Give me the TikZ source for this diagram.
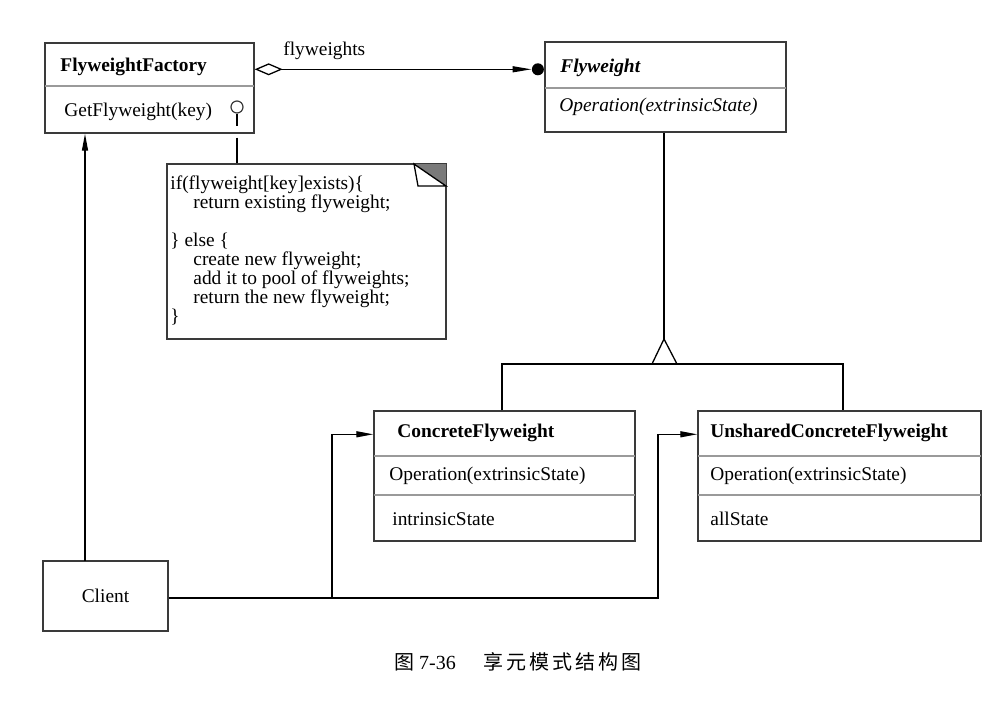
\documentclass[tikz,border=0pt]{standalone}
\usepackage{fontspec}
\setmainfont{Liberation Serif}
\newfontfamily\cjk[LetterSpace=15]{Noto Sans CJK SC}
\usepackage{tikz}
\usetikzlibrary{arrows.meta, positioning, calc, fit}
\definecolor{umlline}{HTML}{3a3a3a}
\definecolor{umlsep}{HTML}{9a9a9a}
\definecolor{umlfold}{HTML}{7a7a7a}

\begin{document}
\begin{tikzpicture}[
  x=0.5pt, y=-0.5pt,
  box/.style={rectangle, draw=umlline, line width=0.7pt, inner sep=0pt},
  txt/.style={inner sep=0pt, anchor=base west, font=\fontsize{9.7}{11}\selectfont},
  sep/.style={umlsep, line width=0.55pt},
  ln/.style={line width=0.65pt},
  ar/.style={-{Triangle[length=8.5pt,width=3pt]}, line width=0.65pt},
  agg/.style={{Diamond[open,length=14pt,width=6pt]}-{Triangle[length=9.5pt,width=3pt]}, line width=0.65pt},
  dotn/.style={circle, fill, inner sep=0pt, minimum size=6pt},
]
  \useasboundingbox (0,0) rectangle (991,707);

  % class boxes
  \node[box, fit={(45,43) (254,133)}] (fac) {};
  \node[box, fit={(545,42) (786,132)}] (fly) {};
  \node[box, fit={(374,411) (635,541)}] (cfw) {};
  \node[box, fit={(698,411) (981,541)}] (ufw) {};
  \node[box, minimum width=62.5pt, minimum height=35pt,
        font=\fontsize{9.7}{11}\selectfont] (cli) at (105.5,596) {Client};

  \draw[sep] (45,86) -- (254,86);
  \draw[sep] (545,88) -- (786,88);
  \draw[sep] (374,456) -- (635,456);
  \draw[sep] (374,495) -- (635,495);
  \draw[sep] (698,456) -- (981,456);
  \draw[sep] (698,495) -- (981,495);

  \node[txt] (facT)  at (60,71)   {\bfseries FlyweightFactory};
  \node[txt] (facOp) at (64,116)  {GetFlyweight(key)};
  \node[txt] (flyT)  at (560,72)  {\bfseries\itshape Flyweight};
  \node[txt] (flyOp) at (559,111) {\itshape Operation(extrinsicState)};
  \node[txt] (cfwT)  at (397,437) {\bfseries ConcreteFlyweight};
  \node[txt] (cfwOp) at (389,480) {Operation(extrinsicState)};
  \node[txt] (cfwSt) at (392,525) {intrinsicState};
  \node[txt] (ufwT)  at (710,437) {\bfseries UnsharedConcreteFlyweight};
  \node[txt] (ufwOp) at (710,480) {Operation(extrinsicState)};
  \node[txt] (ufwSt) at (710,525) {allState};

  % note
  \node[box, fit={(167,164) (446,339)}] (note) {};
  \fill[umlfold] (414,164) -- (446,164) -- (446,186) -- cycle;
  \draw[ln, fill=white] (414,164) -- (418,186) -- (446,186) -- cycle;
  \node[inner sep=0pt, anchor=north west, align=left,
        font=\fontsize{9.7}{9.5}\selectfont] (noteT) at (170,175)
    {if(flyweight[key]exists)\{\\
     \hspace*{11.5pt}return existing flyweight;\\[9.5pt]
     \} else \{\\
     \hspace*{11.5pt}create new flyweight;\\
     \hspace*{11.5pt}add it to pool of flyweights;\\
     \hspace*{11.5pt}return the new flyweight;\\
     \}};

  \node[circle, draw=umlline, line width=0.6pt, minimum size=6pt, inner sep=0pt] (lol) at (237,107) {};
  \draw[line width=0.6pt, dash pattern=on 6pt off 6pt on 30pt off 1pt] (lol) -- (lol |- note.north);

  % aggregation
  \node[dotn, anchor=east] (dot) at ($(fly.north west)+(0,28)$) {};
  \draw[agg] ($(fac.north east)+(0,27)$) -- node[txt, pos=0, xshift=14pt, yshift=7pt] (aggL) {flyweights} (dot);

  % generalization
  \coordinate (apex) at (664,339);
  \coordinate (barL) at (502,364);
  \coordinate (barR) at (843,364);
  \draw[ln] (apex |- fly.south) -- (apex);
  \draw[ln, fill=white] (apex) -- (677,364) -- (652,364) -- cycle;
  \draw[ln] (barL |- cfw.north) -- (barL) -- (barR) -- (barR |- ufw.north);

  % client
  \coordinate (j1) at (332,598);
  \coordinate (j2) at (658,598);
  \coordinate (up) at (85,561);
  \draw[ar] (up) -- (up |- fac.south);
  \draw[ar] (cli.east |- j1) -- (j1) |- ($(cfw.north west)+(0,24)$);
  \draw[ar] (j1) -- (j2) |- ($(ufw.north west)+(0,24)$);

  \node[inner sep=0pt, font=\fontsize{10}{12}\selectfont] (cap) at (518,662)
    {{\cjk 图} 7-36\hspace{14pt}{\cjk 享元模式结构图}};
\end{tikzpicture}
\end{document}
